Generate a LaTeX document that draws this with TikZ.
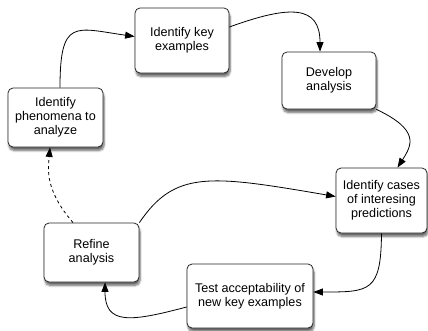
\documentclass[tikz,border=0pt]{standalone}
\usepackage{fontspec}
\setmainfont{Liberation Sans}
\usepackage{tikz}
\usetikzlibrary{arrows.meta,shadows.blur}

\begin{document}
\begin{tikzpicture}[x=1pt, y=1pt,
  stage/.style={draw=black!85, line width=0.8pt, fill=white, rounded corners=5pt,
    align=center, inner sep=0pt, font=\fontsize{12.6}{14}\selectfont,
    blur shadow={shadow xshift=1pt, shadow yshift=-3.5pt, shadow blur steps=6, shadow opacity=60}},
  flow/.style={line width=0.8pt, -{Triangle[length=9.5pt,width=7pt]}}]
\useasboundingbox (0,0) rectangle (428,-330);
% the six steps of the cycle
\node[stage, minimum width=95pt, minimum height=59pt] (phen) at (55.5,-117.5) {Identify\\phenomena to\\analyze};
\node[stage, minimum width=94pt, minimum height=65pt] (key) at (182,-40.5) {Identify key\\examples};
\node[stage, minimum width=94pt, minimum height=57pt] (dev) at (329,-80.5) {Develop\\analysis};
\node[stage, minimum width=91pt, minimum height=65pt] (cases) at (381.5,-200.5) {Identify cases\\of interesing\\predictions};
\node[stage, minimum width=126pt, minimum height=64pt] (test) at (250,-296) {Test acceptability of\\new key examples};
\node[stage, minimum width=95pt, minimum height=59pt] (refine) at (91.5,-252.5) {Refine\\analysis};
% connectors
\draw[flow] ([xshift=4.5pt]phen.north) .. controls (60,-18) and (75,-28) .. ([yshift=4pt]key.west);
\draw[flow] ([yshift=13.5pt]key.east) .. controls (290,-5) and (320,-5) .. ([xshift=-9pt]dev.north);
\draw[flow] (dev.south east) .. controls (420,-130) and (412,-145) .. ([xshift=16pt]cases.north);
\draw[flow] (refine.north east) .. controls (175,-170) and (210,-175) .. ([yshift=4pt]cases.west);
\draw[flow] (cases.south) .. controls (381,-292) and (370,-292) .. ([yshift=4pt]test.east);
\draw[flow] ([yshift=-11pt]test.west) .. controls (130,-322) and (105,-325) .. ([xshift=13.5pt]refine.south);
\draw[flow, dashed] ([xshift=-18.5pt]refine.north) .. controls (45,-190) and (48,-170) .. ([xshift=-5.5pt]phen.south);
\end{tikzpicture}
\end{document}
